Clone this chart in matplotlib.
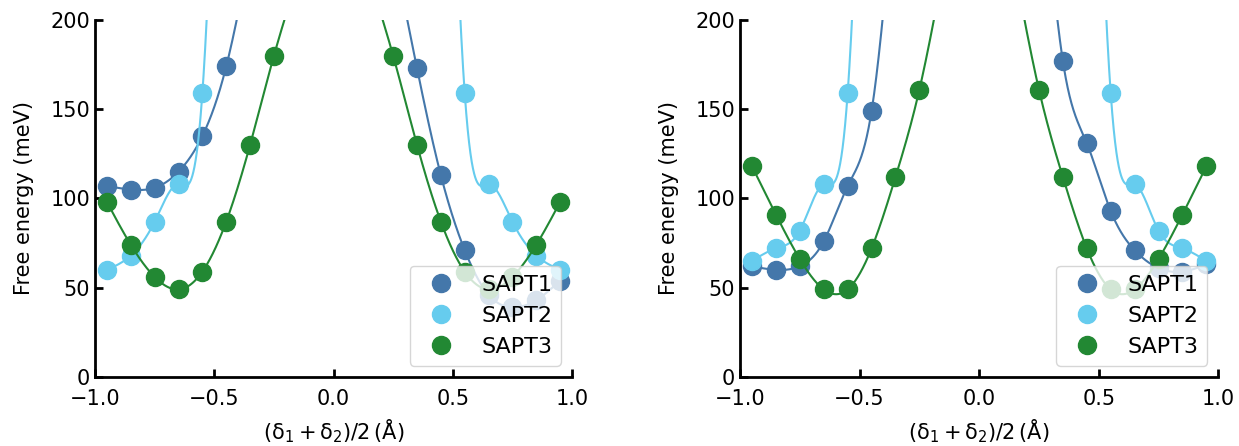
import numpy as np
import matplotlib
matplotlib.use("Agg")
import matplotlib.pyplot as plt

# ---- data -------------------------------------------------------------
x_pos = [-0.95, -0.85, -0.75, -0.65, -0.55, -0.45, -0.35, -0.25, -0.15,
         0.15, 0.25, 0.35, 0.45, 0.55, 0.65, 0.75, 0.85, 0.95]
nan = np.nan
# values above 200 meV lie off the visible range (estimated from curve shape)
left_sapt1 = [107, 105, 106, 115, 135, 174, 238, nan, nan,
              nan, 240, 173, 113, 71, 46, 39, 43, 54]
left_sapt2 = [60, 68, 87, 108, 159, 500, nan, nan, nan,
              nan, nan, nan, 500, 159, 108, 87, 68, 60]
left_sapt3 = [98, 74, 56, 49, 59, 87, 130, 180, 224,
              224, 180, 130, 87, 59, 49, 56, 74, 98]

right_sapt1 = [62, 60, 62, 76, 107, 149, 280, nan, nan,
               nan, 310, 177, 131, 93, 71, 61, 59, 63]
right_sapt2 = [65, 72, 82, 108, 159, 500, nan, nan, nan,
               nan, nan, nan, 500, 159, 108, 82, 72, 65]
right_sapt3 = [118, 91, 66, 49, 49, 72, 112, 161, 228,
               228, 161, 112, 72, 49, 49, 66, 91, 118]

labels = ["SAPT1", "SAPT2", "SAPT3"]
colors = ["#4477AA", "#66CCEE", "#228833"]
x_ticks = [-1.0, -0.5, 0.0, 0.5, 1.0]
y_ticks = [0, 50, 100, 150, 200]


def natural_spline(x, y, xs):
    x = np.asarray(x, float)
    y = np.asarray(y, float)
    n = len(x)
    h = np.diff(x)
    A = np.zeros((n, n))
    r = np.zeros(n)
    A[0, 0] = 1.0
    A[-1, -1] = 1.0
    for i in range(1, n - 1):
        A[i, i - 1] = h[i - 1]
        A[i, i] = 2 * (h[i - 1] + h[i])
        A[i, i + 1] = h[i]
        r[i] = 6 * ((y[i + 1] - y[i]) / h[i] - (y[i] - y[i - 1]) / h[i - 1])
    M = np.linalg.solve(A, r)
    idx = np.clip(np.searchsorted(x, xs) - 1, 0, n - 2)
    x0, x1 = x[idx], x[idx + 1]
    hh = x1 - x0
    a = (x1 - xs) / hh
    b = (xs - x0) / hh
    return (a * y[idx] + b * y[idx + 1]
            + ((a ** 3 - a) * M[idx] + (b ** 3 - b) * M[idx + 1]) * hh ** 2 / 6)


def draw(ax, series):
    xa = np.asarray(x_pos, float)
    for vals, lab, col in zip(series, labels, colors):
        ya = np.asarray(vals, float)
        ok = ~np.isnan(ya)
        for side in (xa < 0, xa > 0):
            m = ok & side
            xb, yb = xa[m], ya[m]
            xs = np.linspace(xb.min(), xb.max(), 800)
            ax.plot(xs, natural_spline(xb, yb, xs), color=col, lw=1.5)
        ax.plot(xa[ok], ya[ok], 'o', ls='none', color=col, ms=13, label=lab)
    ax.set_xlim(-1.0, 1.0)
    ax.set_ylim(0, 200)
    ax.set_xticks(x_ticks)
    ax.set_yticks(y_ticks)
    for s in ("top", "right"):
        ax.spines[s].set_visible(False)
    for s in ("left", "bottom"):
        ax.spines[s].set_linewidth(2)
    ax.tick_params(direction="in", length=6, width=2, labelsize=15)
    ax.tick_params(axis="x", pad=9)
    ax.set_xlabel(r"$(\mathrm{\delta_1} + \mathrm{\delta_2})/2\,(\mathrm{\AA})$",
                  fontsize=15, labelpad=6)
    ax.set_ylabel("Free energy (meV)", fontsize=15, labelpad=12)
    ax.legend(loc="lower right", fontsize=16)


fig = plt.figure(figsize=(12.39, 4.46), dpi=100)
ax1 = fig.add_axes([0.0767, 0.155, 0.385, 0.800])
ax2 = fig.add_axes([0.5973, 0.155, 0.386, 0.800])
draw(ax1, [left_sapt1, left_sapt2, left_sapt3])
draw(ax2, [right_sapt1, right_sapt2, right_sapt3])
fig.savefig("out.png", dpi=100)
